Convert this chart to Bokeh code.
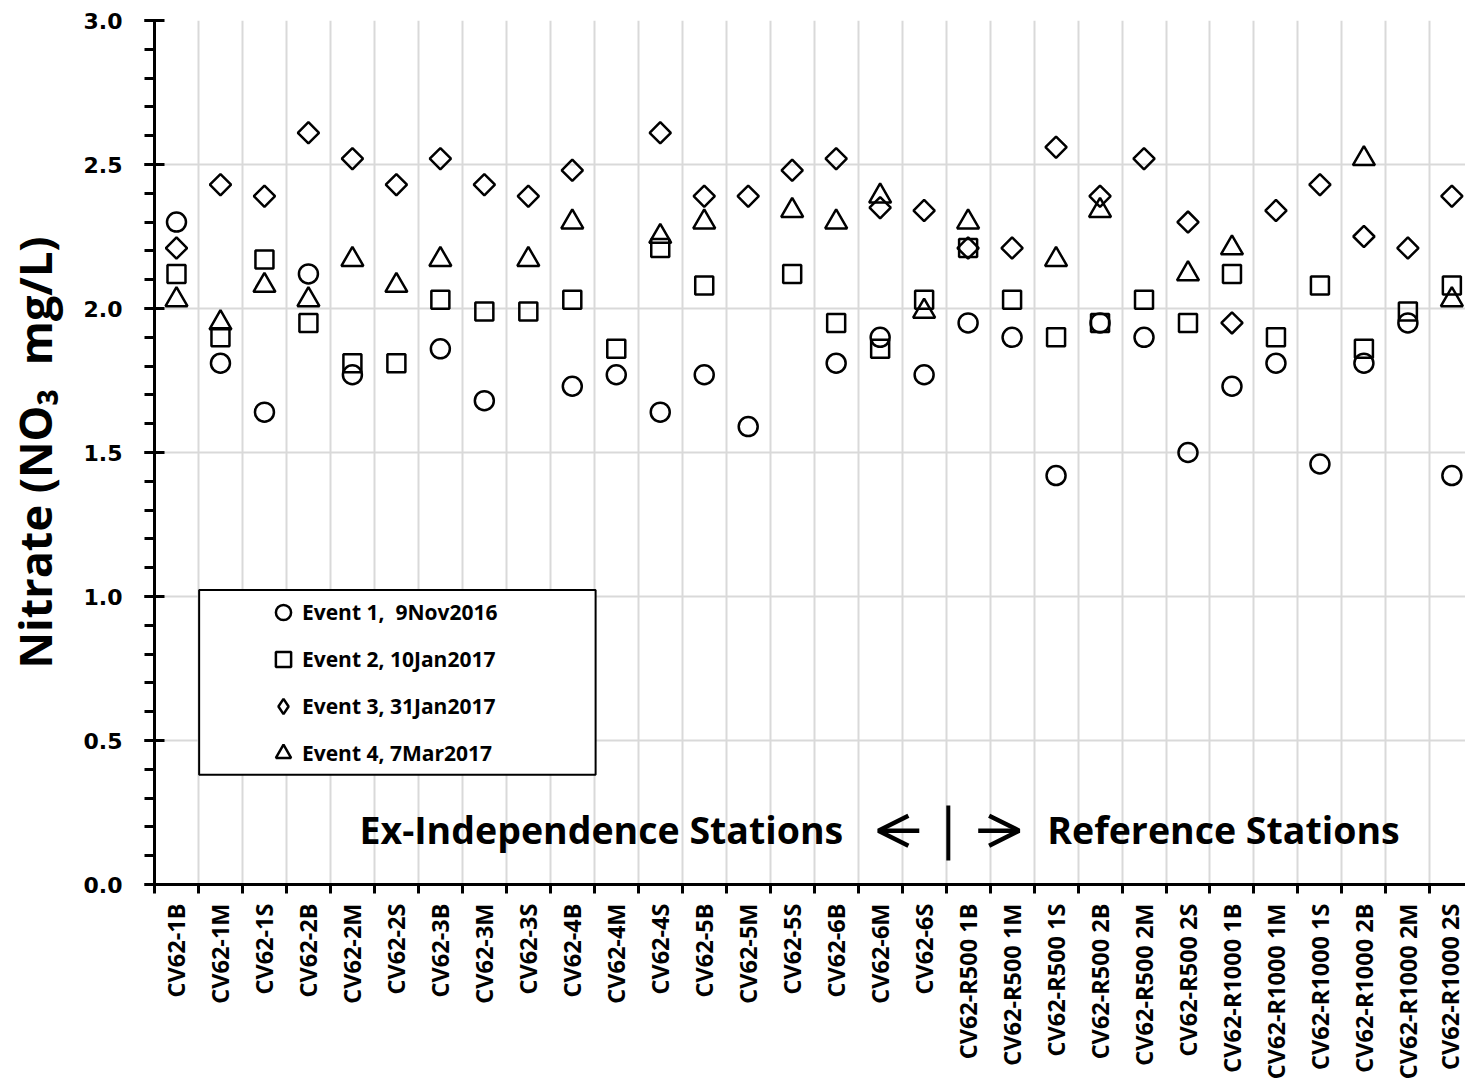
import numpy as np
from bokeh.plotting import figure
from bokeh.models import (ColumnDataSource, Range1d, FixedTicker, SingleIntervalTicker,
                          NumeralTickFormatter, Legend, LegendItem, BoxAnnotation, Label,
                          Arrow, OpenHead)
from bokeh.embed import file_html
from bokeh.resources import INLINE

nan = np.nan

stations = ["CV62-1B", "CV62-1M", "CV62-1S", "CV62-2B", "CV62-2M", "CV62-2S",
            "CV62-3B", "CV62-3M", "CV62-3S", "CV62-4B", "CV62-4M", "CV62-4S",
            "CV62-5B", "CV62-5M", "CV62-5S", "CV62-6B", "CV62-6M", "CV62-6S",
            "CV62-R500 1B", "CV62-R500 1M", "CV62-R500 1S", "CV62-R500 2B",
            "CV62-R500 2M", "CV62-R500 2S", "CV62-R1000 1B", "CV62-R1000 1M",
            "CV62-R1000 1S", "CV62-R1000 2B", "CV62-R1000 2M", "CV62-R1000 2S"]

event1 = [2.30, 1.81, 1.64, 2.12, 1.77, nan, 1.86, 1.68, nan, 1.73,
          1.77, 1.64, 1.77, 1.59, nan, 1.81, 1.90, 1.77, 1.95, 1.90,
          1.42, 1.95, 1.90, 1.50, 1.73, 1.81, 1.46, 1.81, 1.95, 1.42]
event2 = [2.12, 1.90, 2.17, 1.95, 1.81, 1.81, 2.03, 1.99, 1.99, 2.03,
          1.86, 2.21, 2.08, nan, 2.12, 1.95, 1.86, 2.03, 2.21, 2.03,
          1.90, 1.95, 2.03, 1.95, 2.12, 1.90, 2.08, 1.86, 1.99, 2.08]
event3 = [2.21, 2.43, 2.39, 2.61, 2.52, 2.43, 2.52, 2.43, 2.39, 2.48,
          nan, 2.61, 2.39, 2.39, 2.48, 2.52, 2.35, 2.34, 2.21, 2.21,
          2.56, 2.39, 2.52, 2.30, 1.95, 2.34, 2.43, 2.25, 2.21, 2.39]
event4 = [2.03, 1.95, 2.08, 2.03, 2.17, 2.08, 2.17, nan, 2.17, 2.30,
          nan, 2.25, 2.30, nan, 2.34, 2.30, 2.39, 1.99, 2.30, nan,
          2.17, 2.34, nan, 2.12, 2.21, nan, nan, 2.52, nan, 2.03]

event_labels = ["Event 1,\u00a0 9Nov2016", "Event 2, 10Jan2017",
                "Event 3, 31Jan2017", "Event 4, 7Mar2017"]

y_title = "Nitrate (NO\u2083\u00a0 mg/L)"
left_text = "Ex-Independence Stations"
right_text = "Reference Stations"

xpos = list(range(len(stations)))
src = ColumnDataSource(dict(x=xpos, e1=event1, e2=event2, e3=event3, e4=event4))

p = figure(width=1465, height=1082,
           x_range=Range1d(-0.5, 29.31), y_range=Range1d(0, 3.0),
           output_backend="svg", toolbar_location=None,
           min_border_left=152, min_border_right=0,
           min_border_top=20, min_border_bottom=197)
p.outline_line_color = None
p.background_fill_color = "white"

# x axis
p.xaxis.ticker = FixedTicker(ticks=xpos, minor_ticks=[i - 0.5 for i in range(len(stations) + 1)])
p.xaxis.major_label_overrides = {i: s for i, s in zip(xpos, stations)}
p.xaxis.major_label_orientation = np.pi / 2
p.xaxis.major_tick_out = 8
p.xaxis.major_tick_in = 0
p.xaxis.major_tick_line_color = None
p.xaxis.minor_tick_out = 9
p.xaxis.minor_tick_in = 0
p.xaxis.minor_tick_line_color = "black"
p.xaxis.minor_tick_line_width = 3
p.xaxis.axis_line_width = 3
p.xaxis.axis_line_color = "black"
p.xaxis.major_label_text_font = "Open Sans"
p.xaxis.major_label_text_font_style = "bold"
p.xaxis.major_label_text_font_size = "23.5px"
p.xaxis.major_label_text_color = "black"
p.xaxis.major_label_standoff = 10

p.xgrid.grid_line_color = None
p.xgrid.minor_grid_line_color = "#d9d9d9"
p.xgrid.minor_grid_line_width = 2

# y axis
p.yaxis.ticker = SingleIntervalTicker(interval=0.5, num_minor_ticks=5)
p.yaxis.formatter = NumeralTickFormatter(format="0.0")
p.yaxis.major_tick_in = 10
p.yaxis.major_tick_out = 10
p.yaxis.minor_tick_in = 0
p.yaxis.minor_tick_out = 10
p.yaxis.major_tick_line_width = 3
p.yaxis.minor_tick_line_width = 3
p.yaxis.major_tick_line_color = "black"
p.yaxis.minor_tick_line_color = "black"
p.yaxis.axis_line_width = 3
p.yaxis.axis_line_color = "black"
p.yaxis.major_label_text_font = "DejaVu Sans"
p.yaxis.major_label_text_font_style = "bold"
p.yaxis.major_label_text_font_size = "22px"
p.yaxis.major_label_text_color = "black"
p.yaxis.major_label_standoff = 22
p.yaxis.axis_label = y_title
p.yaxis.axis_label_text_font = "Open Sans"
p.yaxis.axis_label_text_font_style = "bold"
p.yaxis.axis_label_text_font_size = "45px"
p.yaxis.axis_label_text_color = "black"
p.yaxis.axis_label_standoff = 16

p.ygrid.grid_line_color = "#d9d9d9"
p.ygrid.grid_line_width = 2

common = dict(source=src, fill_color=None, line_color="black", line_width=2.5)
r1 = p.scatter("x", "e1", marker="circle", size=19, **common)
r2 = p.scatter("x", "e2", marker="square", size=18, **common)
r3 = p.scatter("x", "e3", marker="square", size=15, angle=np.pi / 4, **common)
r4 = p.scatter("x", "e4", marker="triangle", size=22, **common)
# legend swatch for the diamond series (rotated squares are drawn unrotated in legends)
r3_key = p.scatter("x", "e3", marker="diamond", size=15, visible=False, **common)

# legend frame
p.add_layout(BoxAnnotation(left=0.515, right=9.53, bottom=0.3815, top=1.023,
                           fill_color="white", fill_alpha=1.0,
                           line_color="black", line_alpha=1.0, line_width=2))

legend = Legend(items=[LegendItem(label=event_labels[0], renderers=[r1]),
                       LegendItem(label=event_labels[1], renderers=[r2]),
                       LegendItem(label=event_labels[2], renderers=[r3_key]),
                       LegendItem(label=event_labels[3], renderers=[r4])],
                location=(110, 112), padding=0, margin=0, spacing=9,
                glyph_width=38, glyph_height=38, label_height=38,
                label_standoff=0, border_line_color=None,
                background_fill_alpha=0,
                label_text_font="Open Sans", label_text_font_style="bold",
                label_text_font_size="21px", label_text_color="black")
p.add_layout(legend)

# station group annotation
font = dict(text_font="Open Sans", text_font_style="bold", text_font_size="37.5px",
            text_color="black", text_baseline="middle")
p.add_layout(Label(x=15.16, y=0.19, text=left_text, text_align="right", **font))
p.add_layout(Label(x=19.80, y=0.19, text=right_text, text_align="left", **font))
p.add_layout(Arrow(x_start=16.89, y_start=0.187, x_end=15.96, y_end=0.187,
                   line_width=4.5, line_color="black",
                   end=OpenHead(size=30, line_width=4.5, line_color="black")))
p.add_layout(Arrow(x_start=18.23, y_start=0.187, x_end=19.16, y_end=0.187,
                   line_width=4.5, line_color="black",
                   end=OpenHead(size=30, line_width=4.5, line_color="black")))
p.add_layout(Arrow(x_start=17.55, y_start=0.083, x_end=17.55, y_end=0.274,
                   line_width=4, line_color="black", end=None))

open("out.html", "w").write(file_html(p, INLINE))
